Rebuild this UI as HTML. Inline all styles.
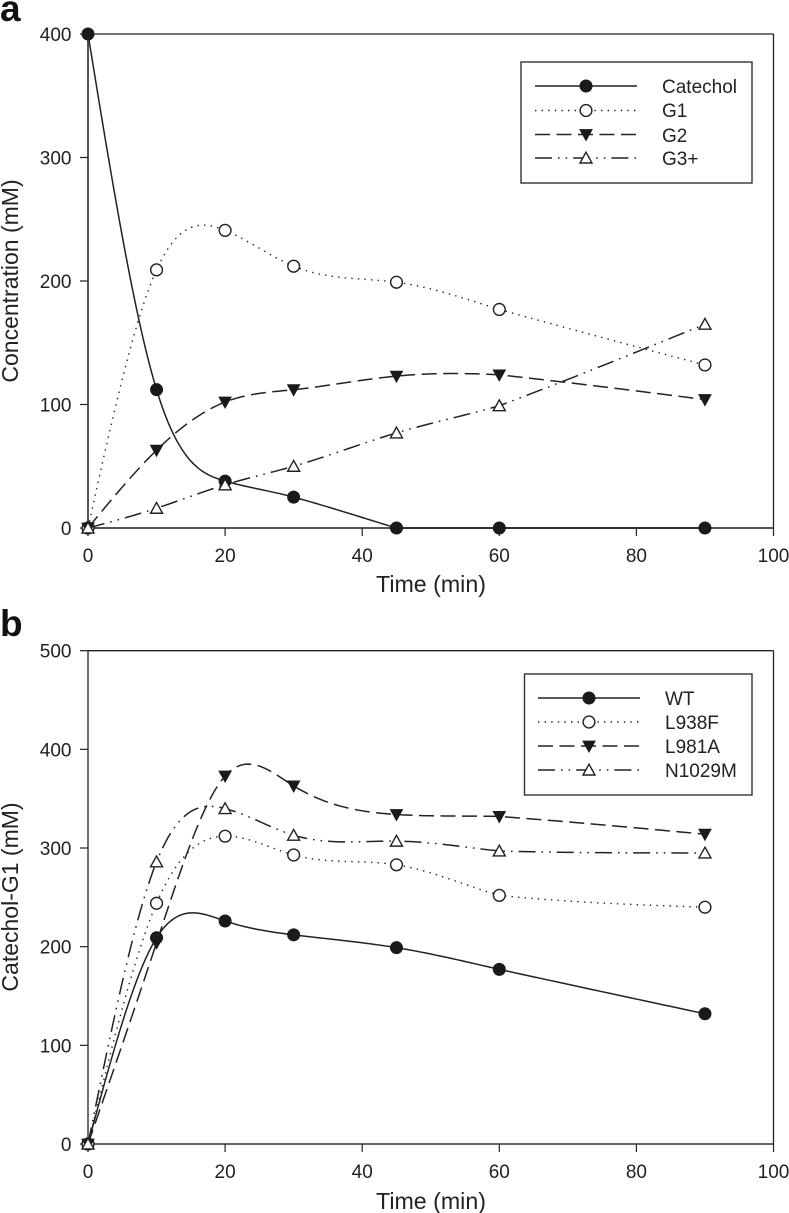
<!DOCTYPE html>
<html lang="en">
<head>
<meta charset="utf-8">
<title>Catechol and Catechol-G1 time courses</title>
<style>
html,body{margin:0;padding:0;background:#fff;width:789px;height:1213px;overflow:hidden}
svg{display:block}
text{font-family:"Liberation Sans",sans-serif;fill:#222}
</style>
</head>
<body>
<svg id="fig" xmlns="http://www.w3.org/2000/svg" width="789" height="1213" viewBox="0 0 789 1213">
  <text x="0" y="21" font-size="37" font-weight="bold" style="fill:#111">a</text>
  <text x="0" y="636" font-size="37" font-weight="bold" style="fill:#111">b</text>
  <text x="431" y="592" font-size="23.2" text-anchor="middle">Time (min)</text>
  <text x="431" y="1209" font-size="23.2" text-anchor="middle">Time (min)</text>
  <text transform="translate(18,281) rotate(-90)" font-size="23" text-anchor="middle">Concentration (mM)</text>
  <text transform="translate(18,897) rotate(-90)" font-size="23" text-anchor="middle">Catechol-G1 (mM)</text>
  <rect x="521" y="62" width="231" height="121" fill="#fff" stroke="#333" stroke-width="1.4"/>
  <rect x="524.5" y="674" width="227.5" height="121" fill="#fff" stroke="#333" stroke-width="1.4"/>
  <text x="662" y="93" font-size="19">Catechol</text>
  <text x="662" y="117" font-size="19">G1</text>
  <text x="662" y="142" font-size="19">G2</text>
  <text x="662" y="165" font-size="19">G3+</text>
  <text x="665" y="705" font-size="19">WT</text>
  <text x="665" y="729" font-size="19">L938F</text>
  <text x="665" y="753" font-size="19">L981A</text>
  <text x="665" y="777" font-size="19">N1029M</text>
</svg>
<script>
const timesMin = [0, 10, 20, 30, 45, 60, 90];
const catechol = [400, 112, 38, 25, 0, 0, 0];
const g1 = [0, 209, 241, 212, 199, 177, 132];
const g2 = [0, 63, 102, 112, 123, 124, 104];
const g3plus = [0, 16, 35, 50, 77, 99, 165];
const wt = [0, 209, 226, 212, 199, 177, 132];
const l938f = [0, 244, 312, 293, 283, 252, 240];
const l981a = [0, 204, 373, 363, 334, 332, 314];
const n1029m = [0, 286, 340, 313, 307, 297, 295];
const xTicks = [0, 20, 40, 60, 80, 100];
const yTicksA = [0, 100, 200, 300, 400];
const yTicksB = [0, 100, 200, 300, 400, 500];

const NS = 'http://www.w3.org/2000/svg';
const fig = document.getElementById('fig');
const INK = '#222';
const STYLES = {
  solid: {dash: '', width: 1.5},
  dotted: {dash: '1.4 5.2', width: 1.4},
  dashed: {dash: '15 6.5', width: 1.5},
  dashdot: {dash: '17 6 1.6 6 1.6 6', width: 1.5}
};

function make(tag, attrs) {
  const el = document.createElementNS(NS, tag);
  for (const k in attrs) el.setAttribute(k, attrs[k]);
  return el;
}

// Cubic spline tangents, adjusted so flat runs stay flat and the long last interval stays nearly straight.
function splineSamples(xs, ys) {
  const n = xs.length;
  const a = new Array(n).fill(0), b = new Array(n).fill(1), c = new Array(n).fill(0), d = new Array(n).fill(0);
  for (let i = 1; i < n - 1; i++) {
    const h0 = xs[i] - xs[i - 1], h1 = xs[i + 1] - xs[i];
    a[i] = h0; b[i] = 2 * (h0 + h1); c[i] = h1;
    d[i] = 6 * ((ys[i + 1] - ys[i]) / h1 - (ys[i] - ys[i - 1]) / h0);
  }
  for (let i = 1; i < n; i++) {
    const m = a[i] / b[i - 1];
    b[i] -= m * c[i - 1];
    d[i] -= m * d[i - 1];
  }
  const M = new Array(n).fill(0);
  M[n - 1] = d[n - 1] / b[n - 1];
  for (let i = n - 2; i >= 0; i--) M[i] = (d[i] - c[i] * M[i + 1]) / b[i];

  const out = [];
  for (let i = 0; i < n - 1; i++) {
    const h = xs[i + 1] - xs[i];
    const sec = (ys[i + 1] - ys[i]) / h;
    let m0 = sec - h * (2 * M[i] + M[i + 1]) / 6;
    let m1 = sec + h * (M[i] + 2 * M[i + 1]) / 6;
    const flat = ys[i + 1] === ys[i];
    const nextFlat = i + 2 < n && ys[i + 2] === ys[i + 1];
    if (flat) { m0 = 0; m1 = 0; }
    else if (nextFlat) { m1 = sec; }
    if (i === n - 2) {
      m0 = 0.8 * sec + 0.2 * m0;
      m1 = 0.8 * sec + 0.2 * m1;
    }
    for (let s = 0; s < 24; s++) {
      const t = s / 24, t2 = t * t, t3 = t2 * t;
      const y = (2 * t3 - 3 * t2 + 1) * ys[i] + (t3 - 2 * t2 + t) * h * m0 + (-2 * t3 + 3 * t2) * ys[i + 1] + (t3 - t2) * h * m1;
      out.push([xs[i] + t * h, y]);
    }
  }
  out.push([xs[n - 1], ys[n - 1]]);
  return out;
}

function drawMarker(parent, kind, px, py) {
  let el;
  if (kind === 'filled-circle') {
    el = make('circle', {cx: px, cy: py, r: 6, fill: '#1a1a1a', stroke: '#1a1a1a', 'stroke-width': 1});
  } else if (kind === 'open-circle') {
    el = make('circle', {cx: px, cy: py, r: 5.9, fill: '#fff', stroke: INK, 'stroke-width': 1.4});
  } else if (kind === 'filled-down') {
    el = make('polygon', {points: (px - 6.2) + ',' + (py - 5) + ' ' + (px + 6.2) + ',' + (py - 5) + ' ' + px + ',' + (py + 6.2), fill: '#1a1a1a', stroke: '#1a1a1a', 'stroke-width': 0.8});
  } else {
    el = make('polygon', {points: (px - 6) + ',' + (py + 5) + ' ' + (px + 6) + ',' + (py + 5) + ' ' + px + ',' + (py - 5.8), fill: '#fff', stroke: INK, 'stroke-width': 1.4});
  }
  
  
  parent.appendChild(el);
}

function drawPanel(panelId, yMax, yTop, yBottom, yTicks, axisColor, axisWidth, seriesList) {
  const xLeft = 88, xRight = 773.5;
  const sx = v => xLeft + (v / 100) * (xRight - xLeft);
  const sy = v => yBottom - (v / yMax) * (yBottom - yTop);

  const axes = make('g', {stroke: axisColor, fill: 'none'});
  
  
  fig.appendChild(axes);

  const top = make('line', {x1: xLeft, x2: xRight, y1: yTop, y2: yTop, stroke: INK, 'stroke-width': 1.3});
  
  
  axes.appendChild(top);
  const right = make('line', {x1: xRight, x2: xRight, y1: yTop, y2: yBottom, stroke: INK, 'stroke-width': 1.3});
  
  
  axes.appendChild(right);
  const bottom = make('line', {x1: xLeft, x2: xRight, y1: yBottom, y2: yBottom, 'stroke-width': axisWidth});
  
  
  axes.appendChild(bottom);
  const left = make('line', {x1: xLeft, x2: xLeft, y1: yTop, y2: yBottom, 'stroke-width': axisWidth});
  
  
  axes.appendChild(left);

  xTicks.forEach(v => {
    const tick = make('line', {x1: sx(v), x2: sx(v), y1: yBottom, y2: yBottom + 8, stroke: INK, 'stroke-width': 1.2});
    
    
    axes.appendChild(tick);
    const label = make('text', {x: sx(v), y: yBottom + 34, 'font-size': 19, 'text-anchor': 'middle', stroke: 'none'});
    
    
    label.textContent = v;
    axes.appendChild(label);
  });
  yTicks.forEach(v => {
    const tick = make('line', {x1: xLeft - 8, x2: xLeft, y1: sy(v), y2: sy(v), stroke: INK, 'stroke-width': 1.2});
    
    
    axes.appendChild(tick);
    const label = make('text', {x: 71.5, y: sy(v) + 7, 'font-size': 19, 'text-anchor': 'end', stroke: 'none'});
    
    
    label.textContent = v;
    axes.appendChild(label);
  });

  seriesList.forEach(series => {
    const g = make('g', {});
    
    
    fig.appendChild(g);
    const d = splineSamples(timesMin, series.values)
      .map((p, i) => (i ? 'L' : 'M') + sx(p[0]).toFixed(2) + ' ' + sy(p[1]).toFixed(2)).join('');
    const st = STYLES[series.line];
    const path = make('path', {d: d, fill: 'none', stroke: INK, 'stroke-width': st.width});
    if (st.dash) path.setAttribute('stroke-dasharray', st.dash);
    
    
    g.appendChild(path);
    timesMin.forEach((t, i) => drawMarker(g, series.marker, sx(t), sy(series.values[i])));
  });
}

function drawLegendKey(x1, x2, y, lineKind, markerKind, name) {
  const g = make('g', {});
  
  
  fig.appendChild(g);
  const st = STYLES[lineKind];
  const line = make('line', {x1: x1, x2: x2, y1: y, y2: y, stroke: INK, 'stroke-width': st.width});
  if (st.dash) line.setAttribute('stroke-dasharray', st.dash);
  
  
  g.appendChild(line);
  drawMarker(g, markerKind, (x1 + x2) / 2, y);
}

drawPanel('a', 400, 34, 528, yTicksA, '#555', 2, [
  {name: 'catechol', values: catechol, line: 'solid', marker: 'filled-circle'},
  {name: 'g1', values: g1, line: 'dotted', marker: 'open-circle'},
  {name: 'g2', values: g2, line: 'dashed', marker: 'filled-down'},
  {name: 'g3-plus', values: g3plus, line: 'dashdot', marker: 'open-up'}
]);
drawPanel('b', 500, 650.7, 1144, yTicksB, '#333', 1.4, [
  {name: 'wt', values: wt, line: 'solid', marker: 'filled-circle'},
  {name: 'l938f', values: l938f, line: 'dotted', marker: 'open-circle'},
  {name: 'l981a', values: l981a, line: 'dashed', marker: 'filled-down'},
  {name: 'n1029m', values: n1029m, line: 'dashdot', marker: 'open-up'}
]);

drawLegendKey(535, 637, 86, 'solid', 'filled-circle', 'catechol');
drawLegendKey(535, 637, 110.5, 'dotted', 'open-circle', 'g1');
drawLegendKey(535, 637, 134.5, 'dashed', 'filled-down', 'g2');
drawLegendKey(535, 637, 158, 'dashdot', 'open-up', 'g3-plus');
drawLegendKey(538, 640, 698, 'solid', 'filled-circle', 'wt');
drawLegendKey(538, 640, 722, 'dotted', 'open-circle', 'l938f');
drawLegendKey(538, 640, 746, 'dashed', 'filled-down', 'l981a');
drawLegendKey(538, 640, 770, 'dashdot', 'open-up', 'n1029m');
</script>
</body>
</html>
